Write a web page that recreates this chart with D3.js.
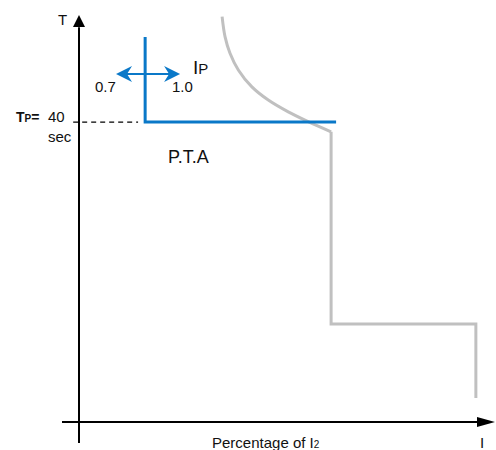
<!DOCTYPE html>
<html><head><meta charset="utf-8">
<script src="https://cdn.jsdelivr.net/npm/d3@7"></script>
<style>body{margin:0;background:#fff}svg{display:block;font-family:"Liberation Sans",Arial,sans-serif}</style>
</head><body><svg id="c" width="496" height="450"></svg>
<script>
// Data (chart units: x = current %, y = time)
const ptaLine = [[15.9, 94.6], [15.9, 73.7], [61.8, 73.7]];
const curvePts = [[34.4, 99.6], [35.1, 94.7], [36.3, 90.6], [38.3, 86.5], [41.5, 82.4], [45.5, 79.1], [50.3, 76.2], [55.1, 73.8], [60.6, 71.3]];
const stepPts = [[60.6, 71.3], [60.6, 24.1], [95.4, 24.1], [95.4, 5.9]];
const adjustRange = [8.9, 24.3];
const adjustY = 85.5;
const tpLevel = 73.7;
const dashFrom = -1.4;

const svg = d3.select("#c");
const x = d3.scaleLinear().domain([0, 100]).range([79, 495]);
const y = d3.scaleLinear().domain([0, 100]).range([422, 15]);
const line = d3.line().x(d => x(d[0])).y(d => y(d[1]));
const blue = "#0a78c8", gray = "#c0c0c0";

// axes
svg.append("line").attr("x1", x(0)).attr("x2", x(0)).attr("y1", 443).attr("y2", y(97)).attr("stroke", "#000").attr("stroke-width", 2);
svg.append("path").attr("d", `M${x(0)},${y(100)} L${x(0)-6},${y(100)+12} L${x(0)+6},${y(100)+12} Z`).attr("fill", "#000");
svg.append("line").attr("x1", 62).attr("x2", x(96)).attr("y1", y(0)).attr("y2", y(0)).attr("stroke", "#000").attr("stroke-width", 2);
svg.append("path").attr("d", `M${x(100)},${y(0)} L${x(100)-18},${y(0)-5} L${x(100)-18},${y(0)+5} Z`).attr("fill", "#000");

// dashed T_P level
svg.append("line").attr("x1", x(dashFrom)).attr("x2", x(14.2)).attr("y1", y(tpLevel)).attr("y2", y(tpLevel))
  .attr("stroke", "#000").attr("stroke-width", 1.2).attr("stroke-dasharray", "5,4");

// gray characteristic
svg.append("path").attr("d", d3.line().x(d => x(d[0])).y(d => y(d[1])).curve(d3.curveCatmullRom.alpha(0.5))(curvePts))
  .attr("fill", "none").attr("stroke", gray).attr("stroke-width", 3);
svg.append("path").attr("d", line(stepPts)).attr("fill", "none").attr("stroke", gray).attr("stroke-width", 3);

// blue PTA line
svg.append("path").attr("d", line(ptaLine)).attr("fill", "none").attr("stroke", blue).attr("stroke-width", 3).attr("stroke-linejoin", "miter");

// double arrow
const ax0 = x(adjustRange[0]), ax1 = x(adjustRange[1]), ay = y(adjustY);
svg.append("line").attr("x1", ax0 + 10).attr("x2", ax1 - 10).attr("y1", ay).attr("y2", ay).attr("stroke", blue).attr("stroke-width", 2);
svg.append("path").attr("d", `M${ax0},${ay} L${ax0+16},${ay-8} L${ax0+11},${ay} L${ax0+16},${ay+8} Z`).attr("fill", blue);
svg.append("path").attr("d", `M${ax1},${ay} L${ax1-16},${ay-8} L${ax1-11},${ay} L${ax1-16},${ay+8} Z`).attr("fill", blue);

// texts
const t = (tx, ty, s, size, anchor) => svg.append("text").attr("x", tx).attr("y", ty).attr("font-size", size).attr("text-anchor", anchor || "start").attr("fill", "#111").text(s);
t(58, 25, "T", 15);
t(95, 92, "0.7", 15);
t(172, 92, "1.0", 15);
const ip = svg.append("text").attr("x", 193).attr("y", 74).attr("fill", "#111");
ip.append("tspan").attr("font-size", 19).text("I");
ip.append("tspan").attr("font-size", 15).text("P");
const tp = svg.append("text").attr("x", 16).attr("y", 122).attr("fill", "#111").attr("font-weight", "bold");
tp.append("tspan").attr("font-size", 14).text("T");
tp.append("tspan").attr("font-size", 10).text("P");
tp.append("tspan").attr("font-size", 14).text("=");
t(48, 122, "40", 15);
t(48, 142, "sec", 15);
t(168, 163, "P.T.A", 18);
const pl = svg.append("text").attr("x", 212).attr("y", 448).attr("fill", "#111").attr("font-size", 15);
pl.append("tspan").text("Percentage of I");
pl.append("tspan").attr("font-size", 10).text("2");
t(480, 448, "I", 15);
</script></body></html>
